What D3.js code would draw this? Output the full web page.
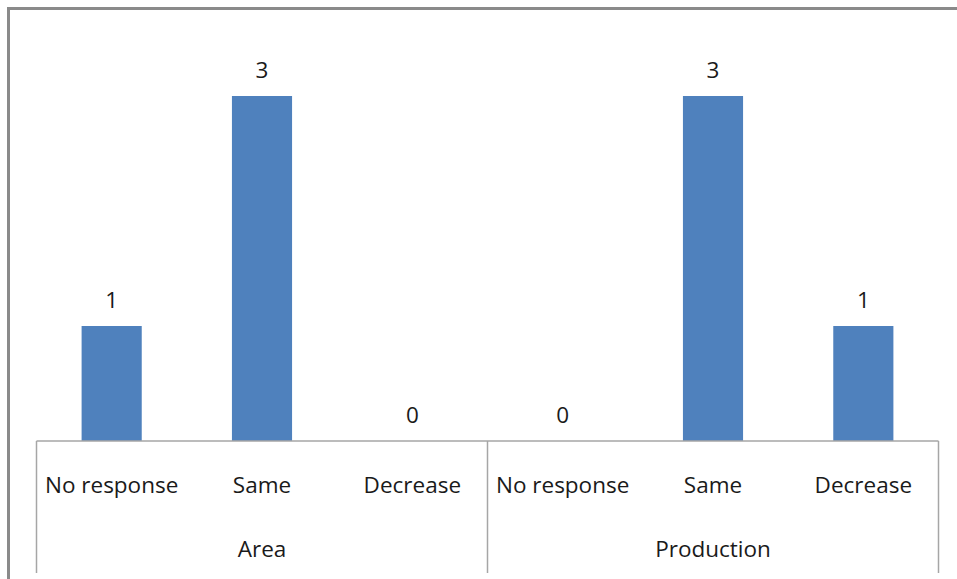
<!DOCTYPE html>
<html><head><meta charset="utf-8">
<script src="https://cdn.jsdelivr.net/npm/d3@7"></script>
<style>body{margin:0;background:#fff}svg{display:block}text{font-family:"Open Sans","Liberation Sans",sans-serif;fill:#1a1a1a}</style>
</head><body><svg id="c" width="957" height="579"></svg>
<script>
const groups = ["Area", "Production"];
const categories = ["No response", "Same", "Decrease"];
const values = [1, 3, 0, 0, 3, 1];
const yMax = 3.5;

(function () {
const svg = d3.select("#c");
const left = 36.5, right = 938.5, base = 441, plotTop = 38.5;
const fs = 22.5;

svg.append("rect").attr("x", 8.5).attr("y", 8.5).attr("width", 960).attr("height", 600)
  .attr("fill", "none").attr("stroke", "#8a8a8a").attr("stroke-width", 3);

const items = [];
groups.forEach((g, gi) => categories.forEach((c, ci) => items.push({g, c, key: gi + "_" + ci, v: values[gi * categories.length + ci]})));

const x = d3.scaleBand().domain(items.map(d => d.key)).range([left, right]).paddingInner(0.6).paddingOuter(0.3);
const xg = d3.scaleBand().domain(groups).range([left, right]);
const y = d3.scaleLinear().domain([0, yMax]).range([base, plotTop]);

svg.selectAll("rect.bar").data(items).enter().append("rect").attr("class", "bar")
  .attr("x", d => x(d.key)).attr("width", x.bandwidth())
  .attr("y", d => y(d.v)).attr("height", d => y(0) - y(d.v))
  .attr("fill", "#4f81bd");

svg.selectAll("text.val").data(items).enter().append("text").attr("class", "val")
  .attr("x", d => x(d.key) + x.bandwidth() / 2).attr("y", d => y(d.v) - 18)
  .attr("text-anchor", "middle").attr("font-size", fs).text(d => d.v);

const axisG = svg.append("g").attr("stroke", "#a6a6a6").attr("stroke-width", 1.5);
axisG.append("line").attr("x1", left).attr("x2", right).attr("y1", base).attr("y2", base);
const seps = [left].concat(groups.map(g => xg(g) + xg.bandwidth()));
axisG.selectAll("line.sep").data(seps).enter().append("line").attr("class", "sep")
  .attr("x1", d => d).attr("x2", d => d).attr("y1", base).attr("y2", 573);

svg.selectAll("text.cat").data(items).enter().append("text").attr("class", "cat")
  .attr("x", d => x(d.key) + x.bandwidth() / 2).attr("y", 493)
  .attr("text-anchor", "middle").attr("font-size", fs).text(d => d.c);

svg.selectAll("text.grp").data(groups).enter().append("text").attr("class", "grp")
  .attr("x", d => xg(d) + xg.bandwidth() / 2).attr("y", 557)
  .attr("text-anchor", "middle").attr("font-size", fs).text(d => d);
})();
</script></body></html>
